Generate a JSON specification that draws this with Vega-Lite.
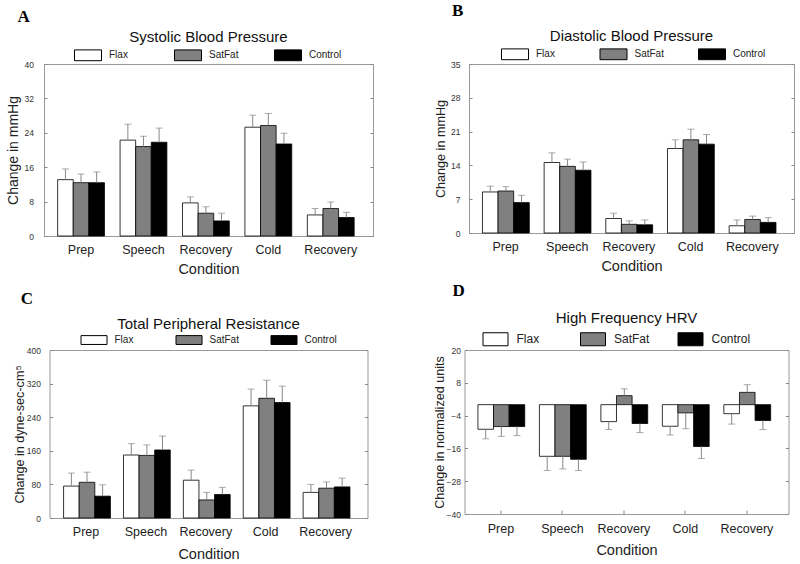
{
  "$schema": "https://vega.github.io/schema/vega-lite/v6.json",
  "background": "white",
  "padding": {"left": 5, "top": 1, "right": 5, "bottom": 3},
  "spacing": 4,
  "center": true,
  "resolve": {"scale": {"fill": "independent"}, "legend": {"fill": "independent"}},
  "datasets": {
    "sbp": [
      {"cond": "Prep", "diet": "Flax", "value": 13.1, "errEnd": 15.6},
      {"cond": "Prep", "diet": "SatFat", "value": 12.4, "errEnd": 14.4},
      {"cond": "Prep", "diet": "Control", "value": 12.4, "errEnd": 14.9},
      {"cond": "Speech", "diet": "Flax", "value": 22.3, "errEnd": 26.0},
      {"cond": "Speech", "diet": "SatFat", "value": 20.8, "errEnd": 23.2},
      {"cond": "Speech", "diet": "Control", "value": 21.8, "errEnd": 25.1},
      {"cond": "Recovery", "diet": "Flax", "value": 7.7, "errEnd": 9.1},
      {"cond": "Recovery", "diet": "SatFat", "value": 5.3, "errEnd": 6.8},
      {"cond": "Recovery", "diet": "Control", "value": 3.5, "errEnd": 5.3},
      {"cond": "Cold", "diet": "Flax", "value": 25.3, "errEnd": 28.1},
      {"cond": "Cold", "diet": "SatFat", "value": 25.7, "errEnd": 28.5},
      {"cond": "Cold", "diet": "Control", "value": 21.4, "errEnd": 23.9},
      {"cond": "Recovery2", "diet": "Flax", "value": 4.9, "errEnd": 6.4},
      {"cond": "Recovery2", "diet": "SatFat", "value": 6.4, "errEnd": 7.9},
      {"cond": "Recovery2", "diet": "Control", "value": 4.3, "errEnd": 5.5}
    ],
    "dbp": [
      {"cond": "Prep", "diet": "Flax", "value": 8.5, "errEnd": 9.7},
      {"cond": "Prep", "diet": "SatFat", "value": 8.7, "errEnd": 9.6},
      {"cond": "Prep", "diet": "Control", "value": 6.3, "errEnd": 7.8},
      {"cond": "Speech", "diet": "Flax", "value": 14.6, "errEnd": 16.6},
      {"cond": "Speech", "diet": "SatFat", "value": 13.8, "errEnd": 15.3},
      {"cond": "Speech", "diet": "Control", "value": 13.0, "errEnd": 14.7},
      {"cond": "Recovery", "diet": "Flax", "value": 3.0, "errEnd": 4.1},
      {"cond": "Recovery", "diet": "SatFat", "value": 1.8, "errEnd": 2.5},
      {"cond": "Recovery", "diet": "Control", "value": 1.7, "errEnd": 2.7},
      {"cond": "Cold", "diet": "Flax", "value": 17.5, "errEnd": 19.3},
      {"cond": "Cold", "diet": "SatFat", "value": 19.3, "errEnd": 21.5},
      {"cond": "Cold", "diet": "Control", "value": 18.4, "errEnd": 20.4},
      {"cond": "Recovery2", "diet": "Flax", "value": 1.5, "errEnd": 2.7},
      {"cond": "Recovery2", "diet": "SatFat", "value": 2.8, "errEnd": 3.5},
      {"cond": "Recovery2", "diet": "Control", "value": 2.2, "errEnd": 3.2}
    ],
    "tpr": [
      {"cond": "Prep", "diet": "Flax", "value": 76, "errEnd": 107},
      {"cond": "Prep", "diet": "SatFat", "value": 85, "errEnd": 109},
      {"cond": "Prep", "diet": "Control", "value": 52, "errEnd": 79},
      {"cond": "Speech", "diet": "Flax", "value": 150, "errEnd": 177},
      {"cond": "Speech", "diet": "SatFat", "value": 149, "errEnd": 174},
      {"cond": "Speech", "diet": "Control", "value": 162, "errEnd": 195},
      {"cond": "Recovery", "diet": "Flax", "value": 90, "errEnd": 114},
      {"cond": "Recovery", "diet": "SatFat", "value": 43, "errEnd": 61},
      {"cond": "Recovery", "diet": "Control", "value": 56, "errEnd": 73},
      {"cond": "Cold", "diet": "Flax", "value": 267, "errEnd": 307},
      {"cond": "Cold", "diet": "SatFat", "value": 285, "errEnd": 328},
      {"cond": "Cold", "diet": "Control", "value": 275, "errEnd": 314},
      {"cond": "Recovery2", "diet": "Flax", "value": 61, "errEnd": 80},
      {"cond": "Recovery2", "diet": "SatFat", "value": 71, "errEnd": 86},
      {"cond": "Recovery2", "diet": "Control", "value": 74, "errEnd": 95}
    ],
    "hrv": [
      {"cond": "Prep", "diet": "Flax", "value": -9.0, "errEnd": -12.5},
      {"cond": "Prep", "diet": "SatFat", "value": -8.0, "errEnd": -11.6},
      {"cond": "Prep", "diet": "Control", "value": -8.0, "errEnd": -11.3},
      {"cond": "Speech", "diet": "Flax", "value": -18.9, "errEnd": -24.1},
      {"cond": "Speech", "diet": "SatFat", "value": -18.9, "errEnd": -23.5},
      {"cond": "Speech", "diet": "Control", "value": -20.0, "errEnd": -24.1},
      {"cond": "Recovery", "diet": "Flax", "value": -6.2, "errEnd": -9.1},
      {"cond": "Recovery", "diet": "SatFat", "value": 3.3, "errEnd": 5.8},
      {"cond": "Recovery", "diet": "Control", "value": -6.9, "errEnd": -10.2},
      {"cond": "Cold", "diet": "Flax", "value": -7.9, "errEnd": -11.1},
      {"cond": "Cold", "diet": "SatFat", "value": -3.0, "errEnd": -8.8},
      {"cond": "Cold", "diet": "Control", "value": -15.3, "errEnd": -19.7},
      {"cond": "Recovery2", "diet": "Flax", "value": -3.3, "errEnd": -7.1},
      {"cond": "Recovery2", "diet": "SatFat", "value": 4.5, "errEnd": 7.3},
      {"cond": "Recovery2", "diet": "Control", "value": -5.8, "errEnd": -9.1}
    ]
  },
  "vconcat": [
    {
      "spacing": 60,
      "resolve": {"scale": {"fill": "independent"}, "legend": {"fill": "independent"}},
      "hconcat": [
        {
          "title": {"text": "A", "anchor": "start", "font": "Liberation Serif", "fontSize": 17, "fontWeight": "bold", "color": "black", "dx": 12, "offset": 4},
          "resolve": {"scale": {"fill": "independent"}, "legend": {"fill": "independent"}},
          "vconcat": [
            {
              "width": 329, "height": 172,
              "data": {"name": "sbp"},
              "title": {"text": "Systolic Blood Pressure", "offset": -4},
              "encoding": {
                "x": {"field": "cond", "type": "nominal", "sort": ["Prep", "Speech", "Recovery", "Cold", "Recovery2"],
                  "scale": {"paddingInner": 0.25, "paddingOuter": 0.26, "align": 0.42},
                  "axis": {"title": "Condition", "labelAngle": 0, "ticks": false, "labelFontSize": 12.5, "labelColor": "#222", "labelPadding": 7, "titleFontSize": 14.5, "titlePadding": 7, "labelExpr": "datum.label == 'Recovery2' ? 'Recovery' : datum.label"}},
                "xOffset": {"field": "diet", "type": "nominal", "sort": ["Flax", "SatFat", "Control"], "scale": {"paddingInner": 0, "paddingOuter": 0}}
              },
              "resolve": {"axis": {"y": "independent"}},
              "layer": [
                {"mark": {"type": "bar", "stroke": "black", "strokeWidth": 0.8},
                  "encoding": {
                    "y": {"field": "value", "type": "quantitative", "scale": {"domain": [0, 40], "nice": false},
                      "axis": {"values": [0, 8, 16, 24, 32, 40], "title": "Change in mmHg", "titleFontSize": 14, "labelFontSize": 8.5, "tickSize": -3, "tickColor": "#888", "labelPadding": 13.5, "titlePadding": 4}},
                    "fill": {"field": "diet", "type": "nominal", "scale": {"domain": ["Flax", "SatFat", "Control"], "range": ["white", "#808080", "black"]},
                      "legend": {"orient": "none", "legendX": 30, "legendY": -23, "direction": "horizontal", "title": null, "padding": 0, "symbolType": "M-1,-0.4H1V0.4H-1Z", "symbolSize": 729, "symbolStrokeColor": "black", "symbolStrokeWidth": 1, "labelFontSize": 10, "labelOffset": 7, "gridAlign": "all", "columnPadding": 30}}
                  }},
                {"mark": {"type": "rule", "color": "#888", "strokeWidth": 1},
                  "encoding": {"y": {"field": "value", "type": "quantitative", "axis": {"orient": "right", "labels": false, "title": null, "values": [0, 8, 16, 24, 32, 40], "tickSize": -3, "tickColor": "#888"}}, "y2": {"field": "errEnd"}}},
                {"mark": {"type": "tick", "color": "#888", "size": 7, "thickness": 1},
                  "encoding": {"y": {"field": "errEnd", "type": "quantitative", "axis": null}}}
              ]
            }
          ]
        },
        {
          "title": {"text": "B", "anchor": "start", "font": "Liberation Serif", "fontSize": 17, "fontWeight": "bold", "color": "black", "dx": 18, "offset": 9},
          "resolve": {"scale": {"fill": "independent"}, "legend": {"fill": "independent"}},
          "vconcat": [
            {
              "width": 325, "height": 169,
              "data": {"name": "dbp"},
              "title": {"text": "Diastolic Blood Pressure", "offset": -4},
              "encoding": {
                "x": {"field": "cond", "type": "nominal", "sort": ["Prep", "Speech", "Recovery", "Cold", "Recovery2"],
                  "scale": {"paddingInner": 0.25, "paddingOuter": 0.26, "align": 0.42},
                  "axis": {"title": "Condition", "labelAngle": 0, "ticks": false, "labelFontSize": 12.5, "labelColor": "#222", "labelPadding": 7, "titleFontSize": 14.5, "titlePadding": 7, "labelExpr": "datum.label == 'Recovery2' ? 'Recovery' : datum.label"}},
                "xOffset": {"field": "diet", "type": "nominal", "sort": ["Flax", "SatFat", "Control"], "scale": {"paddingInner": 0, "paddingOuter": 0}}
              },
              "resolve": {"axis": {"y": "independent"}},
              "layer": [
                {"mark": {"type": "bar", "stroke": "black", "strokeWidth": 0.8},
                  "encoding": {
                    "y": {"field": "value", "type": "quantitative", "scale": {"domain": [0, 35], "nice": false},
                      "axis": {"values": [0, 7, 14, 21, 28, 35], "title": "Change in mmHg", "titleFontSize": 12.6, "labelFontSize": 8.5, "tickSize": -3, "tickColor": "#888", "labelPadding": 12, "titlePadding": 3}},
                    "fill": {"field": "diet", "type": "nominal", "scale": {"domain": ["Flax", "SatFat", "Control"], "range": ["white", "#808080", "black"]},
                      "legend": {"orient": "none", "legendX": 32, "legendY": -24, "direction": "horizontal", "title": null, "padding": 0, "symbolType": "M-1,-0.4H1V0.4H-1Z", "symbolSize": 729, "symbolStrokeColor": "black", "symbolStrokeWidth": 1, "labelFontSize": 10, "labelOffset": 7, "gridAlign": "all", "columnPadding": 28.5}}
                  }},
                {"mark": {"type": "rule", "color": "#888", "strokeWidth": 1},
                  "encoding": {"y": {"field": "value", "type": "quantitative", "axis": {"orient": "right", "labels": false, "title": null, "values": [0, 7, 14, 21, 28, 35], "tickSize": -3, "tickColor": "#888"}}, "y2": {"field": "errEnd"}}},
                {"mark": {"type": "tick", "color": "#888", "size": 7, "thickness": 1},
                  "encoding": {"y": {"field": "errEnd", "type": "quantitative", "axis": null}}}
              ]
            }
          ]
        }
      ]
    },
    {
      "spacing": 64,
      "resolve": {"scale": {"fill": "independent"}, "legend": {"fill": "independent"}},
      "hconcat": [
        {
          "title": {"text": "C", "anchor": "start", "font": "Liberation Serif", "fontSize": 17, "fontWeight": "bold", "color": "black", "dx": 8, "offset": 8},
          "resolve": {"scale": {"fill": "independent"}, "legend": {"fill": "independent"}},
          "vconcat": [
            {
              "width": 318, "height": 168,
              "data": {"name": "tpr"},
              "title": {"text": "Total Peripheral Resistance", "offset": -5},
              "encoding": {
                "x": {"field": "cond", "type": "nominal", "sort": ["Prep", "Speech", "Recovery", "Cold", "Recovery2"],
                  "scale": {"paddingInner": 0.25, "paddingOuter": 0.28, "align": 0.42},
                  "axis": {"title": "Condition", "labelAngle": 0, "ticks": false, "labelFontSize": 12.5, "labelColor": "#222", "labelPadding": 7, "titleFontSize": 14.5, "titlePadding": 10, "labelExpr": "datum.label == 'Recovery2' ? 'Recovery' : datum.label"}},
                "xOffset": {"field": "diet", "type": "nominal", "sort": ["Flax", "SatFat", "Control"], "scale": {"paddingInner": 0, "paddingOuter": 0}}
              },
              "resolve": {"axis": {"y": "independent"}},
              "layer": [
                {"mark": {"type": "bar", "stroke": "black", "strokeWidth": 0.8},
                  "encoding": {
                    "y": {"field": "value", "type": "quantitative", "scale": {"domain": [0, 400], "nice": false},
                      "axis": {"values": [0, 80, 160, 240, 320, 400], "title": "Change in dyne-sec-cm⁵", "titleFontSize": 12.6, "labelFontSize": 8.5, "tickSize": -3, "tickColor": "#888", "labelPadding": 12, "titlePadding": 0}},
                    "fill": {"field": "diet", "type": "nominal", "scale": {"domain": ["Flax", "SatFat", "Control"], "range": ["white", "#808080", "black"]},
                      "legend": {"orient": "none", "legendX": 31, "legendY": -23.5, "direction": "horizontal", "title": null, "padding": 0, "symbolType": "M-1,-0.34H1V0.34H-1Z", "symbolSize": 676, "symbolStrokeColor": "black", "symbolStrokeWidth": 1, "labelFontSize": 10, "labelOffset": 7, "gridAlign": "all", "columnPadding": 26}}
                  }},
                {"mark": {"type": "rule", "color": "#888", "strokeWidth": 1},
                  "encoding": {"y": {"field": "value", "type": "quantitative", "axis": {"orient": "right", "labels": false, "title": null, "values": [0, 80, 160, 240, 320, 400], "tickSize": -3, "tickColor": "#888"}}, "y2": {"field": "errEnd"}}},
                {"mark": {"type": "tick", "color": "#888", "size": 7, "thickness": 1},
                  "encoding": {"y": {"field": "errEnd", "type": "quantitative", "axis": null}}}
              ]
            }
          ]
        },
        {
          "title": {"text": "D", "anchor": "start", "font": "Liberation Serif", "fontSize": 17, "fontWeight": "bold", "color": "black", "dx": 20, "offset": 11},
          "resolve": {"scale": {"fill": "independent"}, "legend": {"fill": "independent"}},
          "vconcat": [
            {
              "width": 324, "height": 164,
              "data": {"name": "hrv"},
              "title": {"text": "High Frequency HRV", "offset": 0},
              "encoding": {
                "x": {"field": "cond", "type": "nominal", "sort": ["Prep", "Speech", "Recovery", "Cold", "Recovery2"],
                  "scale": {"paddingInner": 0.25, "paddingOuter": 0.26, "align": 0.42},
                  "axis": {"title": "Condition", "labelAngle": 0, "ticks": true, "tickSize": -4, "tickColor": "#888", "labelFontSize": 12.5, "labelColor": "#222", "labelPadding": 12, "titleFontSize": 14.5, "titlePadding": 9, "labelExpr": "datum.label == 'Recovery2' ? 'Recovery' : datum.label"}},
                "xOffset": {"field": "diet", "type": "nominal", "sort": ["Flax", "SatFat", "Control"], "scale": {"paddingInner": 0, "paddingOuter": 0}}
              },
              "resolve": {"axis": {"y": "independent"}},
              "layer": [
                {"mark": {"type": "bar", "stroke": "black", "strokeWidth": 0.8},
                  "encoding": {
                    "y": {"field": "value", "type": "quantitative", "scale": {"domain": [-40, 20], "nice": false},
                      "axis": {"values": [-40, -28, -16, -4, 8, 20], "title": "Change in normalized units", "titleFontSize": 12.6, "labelFontSize": 8.5, "tickSize": -3, "tickColor": "#888", "labelPadding": 7, "titlePadding": 0}},
                    "fill": {"field": "diet", "type": "nominal", "scale": {"domain": ["Flax", "SatFat", "Control"], "range": ["white", "#808080", "black"]},
                      "legend": {"orient": "none", "legendX": 18, "legendY": -24, "direction": "horizontal", "title": null, "padding": 0, "symbolType": "M-1,-0.52H1V0.52H-1Z", "symbolSize": 625, "symbolStrokeColor": "black", "symbolStrokeWidth": 1, "labelFontSize": 12, "labelOffset": 8, "gridAlign": "all", "columnPadding": 22.5}}
                  }},
                {"mark": {"type": "rule", "color": "#888", "strokeWidth": 1},
                  "encoding": {"y": {"field": "value", "type": "quantitative", "axis": {"orient": "right", "labels": false, "title": null, "values": [-40, -28, -16, -4, 8, 20], "tickSize": -3, "tickColor": "#888"}}, "y2": {"field": "errEnd"}}},
                {"mark": {"type": "tick", "color": "#888", "size": 7, "thickness": 1},
                  "encoding": {"y": {"field": "errEnd", "type": "quantitative", "axis": null}}},
                {"mark": {"type": "rule", "color": "#999", "strokeWidth": 1},
                  "encoding": {"y": {"datum": 0, "type": "quantitative", "axis": null}}}
              ]
            }
          ]
        }
      ]
    }
  ],
  "config": {
    "font": "Liberation Sans",
    "view": {"stroke": "#999", "strokeWidth": 1},
    "axis": {"labelFont": "Liberation Sans", "titleFont": "Liberation Sans", "labelColor": "#333", "titleColor": "#222", "titleFontWeight": "normal", "grid": false, "domain": false},
    "legend": {"labelFont": "Liberation Sans", "labelColor": "#222"},
    "title": {"font": "Liberation Sans", "fontWeight": "normal", "fontSize": 15, "color": "#111"}
  }
}
